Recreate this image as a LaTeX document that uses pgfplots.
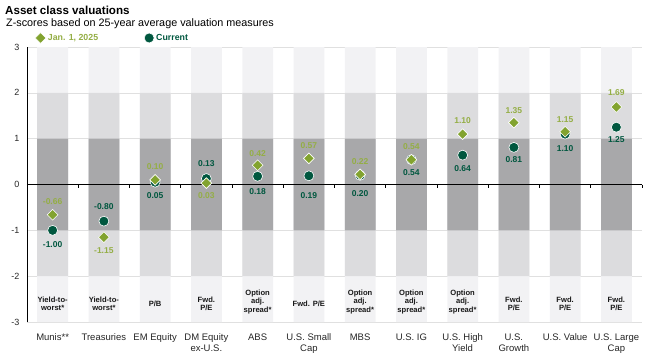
\documentclass[border=0pt]{standalone}
\usepackage{pgfplots}
\pgfplotsset{compat=1.18}
\usepackage{pgfplotstable}
\usepackage{fontspec}
\setmainfont{Liberation Sans}
\definecolor{olv}{HTML}{82A32F}
\definecolor{olvtxt}{HTML}{94AE45}
\definecolor{dgr}{HTML}{00573F}
\definecolor{bandA}{HTML}{A8A8AA}
\definecolor{bandB}{HTML}{DCDCDE}
\definecolor{bandC}{HTML}{F2F2F4}

\pgfplotstableread{
x y lab dy
0 -0.66 -0.66 13
1 -1.15 -1.15 -13
2 0.10 0.10 13
3 0.03 0.03 -12
4 0.42 0.42 12
5 0.57 0.57 13
6 0.22 0.22 13
7 0.54 0.54 13
8 1.10 1.10 14
9 1.35 1.35 12
10 1.15 1.15 12
11 1.69 1.69 14
}\janData

\pgfplotstableread{
x y lab dy
0 -1.00 -1.00 -14
1 -0.80 -0.80 15
2 0.05 0.05 -13
3 0.13 0.13 15
4 0.18 0.18 -15
5 0.19 0.19 -20
6 0.20 0.20 -18
7 0.54 0.54 -13
8 0.64 0.64 -13
9 0.81 0.81 -12
10 1.10 1.10 -14
11 1.25 1.25 -12
}\curData

\begin{document}
\begin{tikzpicture}
\useasboundingbox (-27pt,-35pt) rectangle (627pt,322pt);
\node[anchor=base west, font=\bfseries\fontsize{11.6}{13}\selectfont, inner sep=0pt] at (-22pt,308pt) {Asset class valuations};
\node[anchor=base west, font=\fontsize{10.8}{12}\selectfont, inner sep=0pt] at (-21pt,296pt) {Z-scores based on 25-year average valuation measures};
\begin{axis}[
  at={(0,0)}, anchor=south west,
  scale only axis, width=615pt, height=275pt,
  xmin=-0.5, xmax=11.5, ymin=-3, ymax=3,
  axis lines*=left,
  x axis line style={draw=none},
  y axis line style={black, line width=0.8pt, -},
  xtick={0,...,11},
  xticklabels={Munis**, Treasuries, EM Equity, {DM Equity\\ex-U.S.}, ABS, {U.S. Small\\Cap}, MBS, U.S. IG, {U.S. High\\Yield}, {U.S.\\Growth}, U.S. Value, {U.S. Large\\Cap}},
  xticklabel style={align=center, font=\fontsize{9.5}{11}\selectfont, text=black!85, yshift=-8pt},
  ytick={-3,...,3}, yticklabels={-3,-2,-1,0,1,2,3},
  yticklabel style={font=\fontsize{9}{10}\selectfont, text=black!85, xshift=-4pt},
  major tick length=0pt,
  ymajorgrids, grid style={color=black!12, line width=0.6pt},
  clip=false,
  legend style={at={(axis description cs:0,1)}, anchor=south west, xshift=5pt, yshift=1pt, draw=none, fill=none,
    font=\bfseries\fontsize{8.8}{10}\selectfont, legend columns=2,
    /tikz/every even column/.append style={column sep=44pt}},
]
\addlegendimage{only marks, mark=square*, mark size=3.8pt, mark options={rotate=45, fill=olv, draw=white, line width=0.6pt}}
\addlegendentry{\textcolor{olvtxt}{Jan. 1, 2025}}
\addlegendimage{only marks, mark=*, mark size=5pt, mark options={fill=dgr, draw=white, line width=0.6pt}}
\addlegendentry{\textcolor{dgr}{Current}}

\addplot[ybar, bar shift=0pt, bar width=0.6, fill=bandC, draw=none, forget plot] coordinates {
(0,3)(0,-3)(1,3)(1,-3)(2,3)(2,-3)(3,3)(3,-3)(4,3)(4,-3)(5,3)(5,-3)
(6,3)(6,-3)(7,3)(7,-3)(8,3)(8,-3)(9,3)(9,-3)(10,3)(10,-3)(11,3)(11,-3)};
\addplot[ybar, bar shift=0pt, bar width=0.6, fill=bandB, draw=none, forget plot] coordinates {
(0,2)(0,-2)(1,2)(1,-2)(2,2)(2,-2)(3,2)(3,-2)(4,2)(4,-2)(5,2)(5,-2)
(6,2)(6,-2)(7,2)(7,-2)(8,2)(8,-2)(9,2)(9,-2)(10,2)(10,-2)(11,2)(11,-2)};
\addplot[ybar, bar shift=0pt, bar width=0.6, fill=bandA, draw=none, forget plot] coordinates {
(0,1)(0,-1)(1,1)(1,-1)(2,1)(2,-1)(3,1)(3,-1)(4,1)(4,-1)(5,1)(5,-1)
(6,1)(6,-1)(7,1)(7,-1)(8,1)(8,-1)(9,1)(9,-1)(10,1)(10,-1)(11,1)(11,-1)};

\addplot[black, line width=0.9pt, no marks, forget plot] coordinates {(-0.5,0)(11.5,0)};
\addplot[ycomb, black, line width=0.6pt, no marks, forget plot] coordinates {
(0.5,-0.07)(1.5,-0.07)(2.5,-0.07)(3.5,-0.07)(4.5,-0.07)(5.5,-0.07)
(6.5,-0.07)(7.5,-0.07)(8.5,-0.07)(9.5,-0.07)(10.5,-0.07)(11.5,-0.07)};

\addplot[only marks, mark=*, mark size=5pt, mark options={fill=dgr, draw=white, line width=0.6pt},
  point meta=explicit symbolic, nodes near coords,
  visualization depends on={\thisrow{dy} \as \dy},
  nodes near coords style={anchor=center, yshift=\dy pt, font=\bfseries\fontsize{8.5}{10}\selectfont, text=dgr},
  forget plot] table[x=x, y=y, meta=lab] {\curData};
\addplot[only marks, mark=square*, mark size=3.8pt, mark options={rotate=45, fill=olv, draw=white, line width=0.6pt},
  point meta=explicit symbolic, nodes near coords,
  visualization depends on={\thisrow{dy} \as \dy},
  nodes near coords style={anchor=center, yshift=\dy pt, font=\bfseries\fontsize{8.5}{10}\selectfont, text=olvtxt},
  forget plot] table[x=x, y=y, meta=lab] {\janData};

\begin{scope}[every node/.style={font=\bfseries\fontsize{7.6}{8.4}\selectfont, align=center, text=black!90}]
\node at (axis cs:0,-2.6) {Yield-to-\\worst*};
\node at (axis cs:1,-2.6) {Yield-to-\\worst*};
\node at (axis cs:2,-2.6) {P/B};
\node at (axis cs:3,-2.6) {Fwd.\\P/E};
\node at (axis cs:4,-2.56) {Option\\adj.\\spread*};
\node at (axis cs:5,-2.6) {Fwd. P/E};
\node at (axis cs:6,-2.56) {Option\\adj.\\spread*};
\node at (axis cs:7,-2.56) {Option\\adj.\\spread*};
\node at (axis cs:8,-2.56) {Option\\adj.\\spread*};
\node at (axis cs:9,-2.6) {Fwd.\\P/E};
\node at (axis cs:10,-2.6) {Fwd.\\P/E};
\node at (axis cs:11,-2.6) {Fwd.\\P/E};
\end{scope}
\end{axis}
\end{tikzpicture}
\end{document}
